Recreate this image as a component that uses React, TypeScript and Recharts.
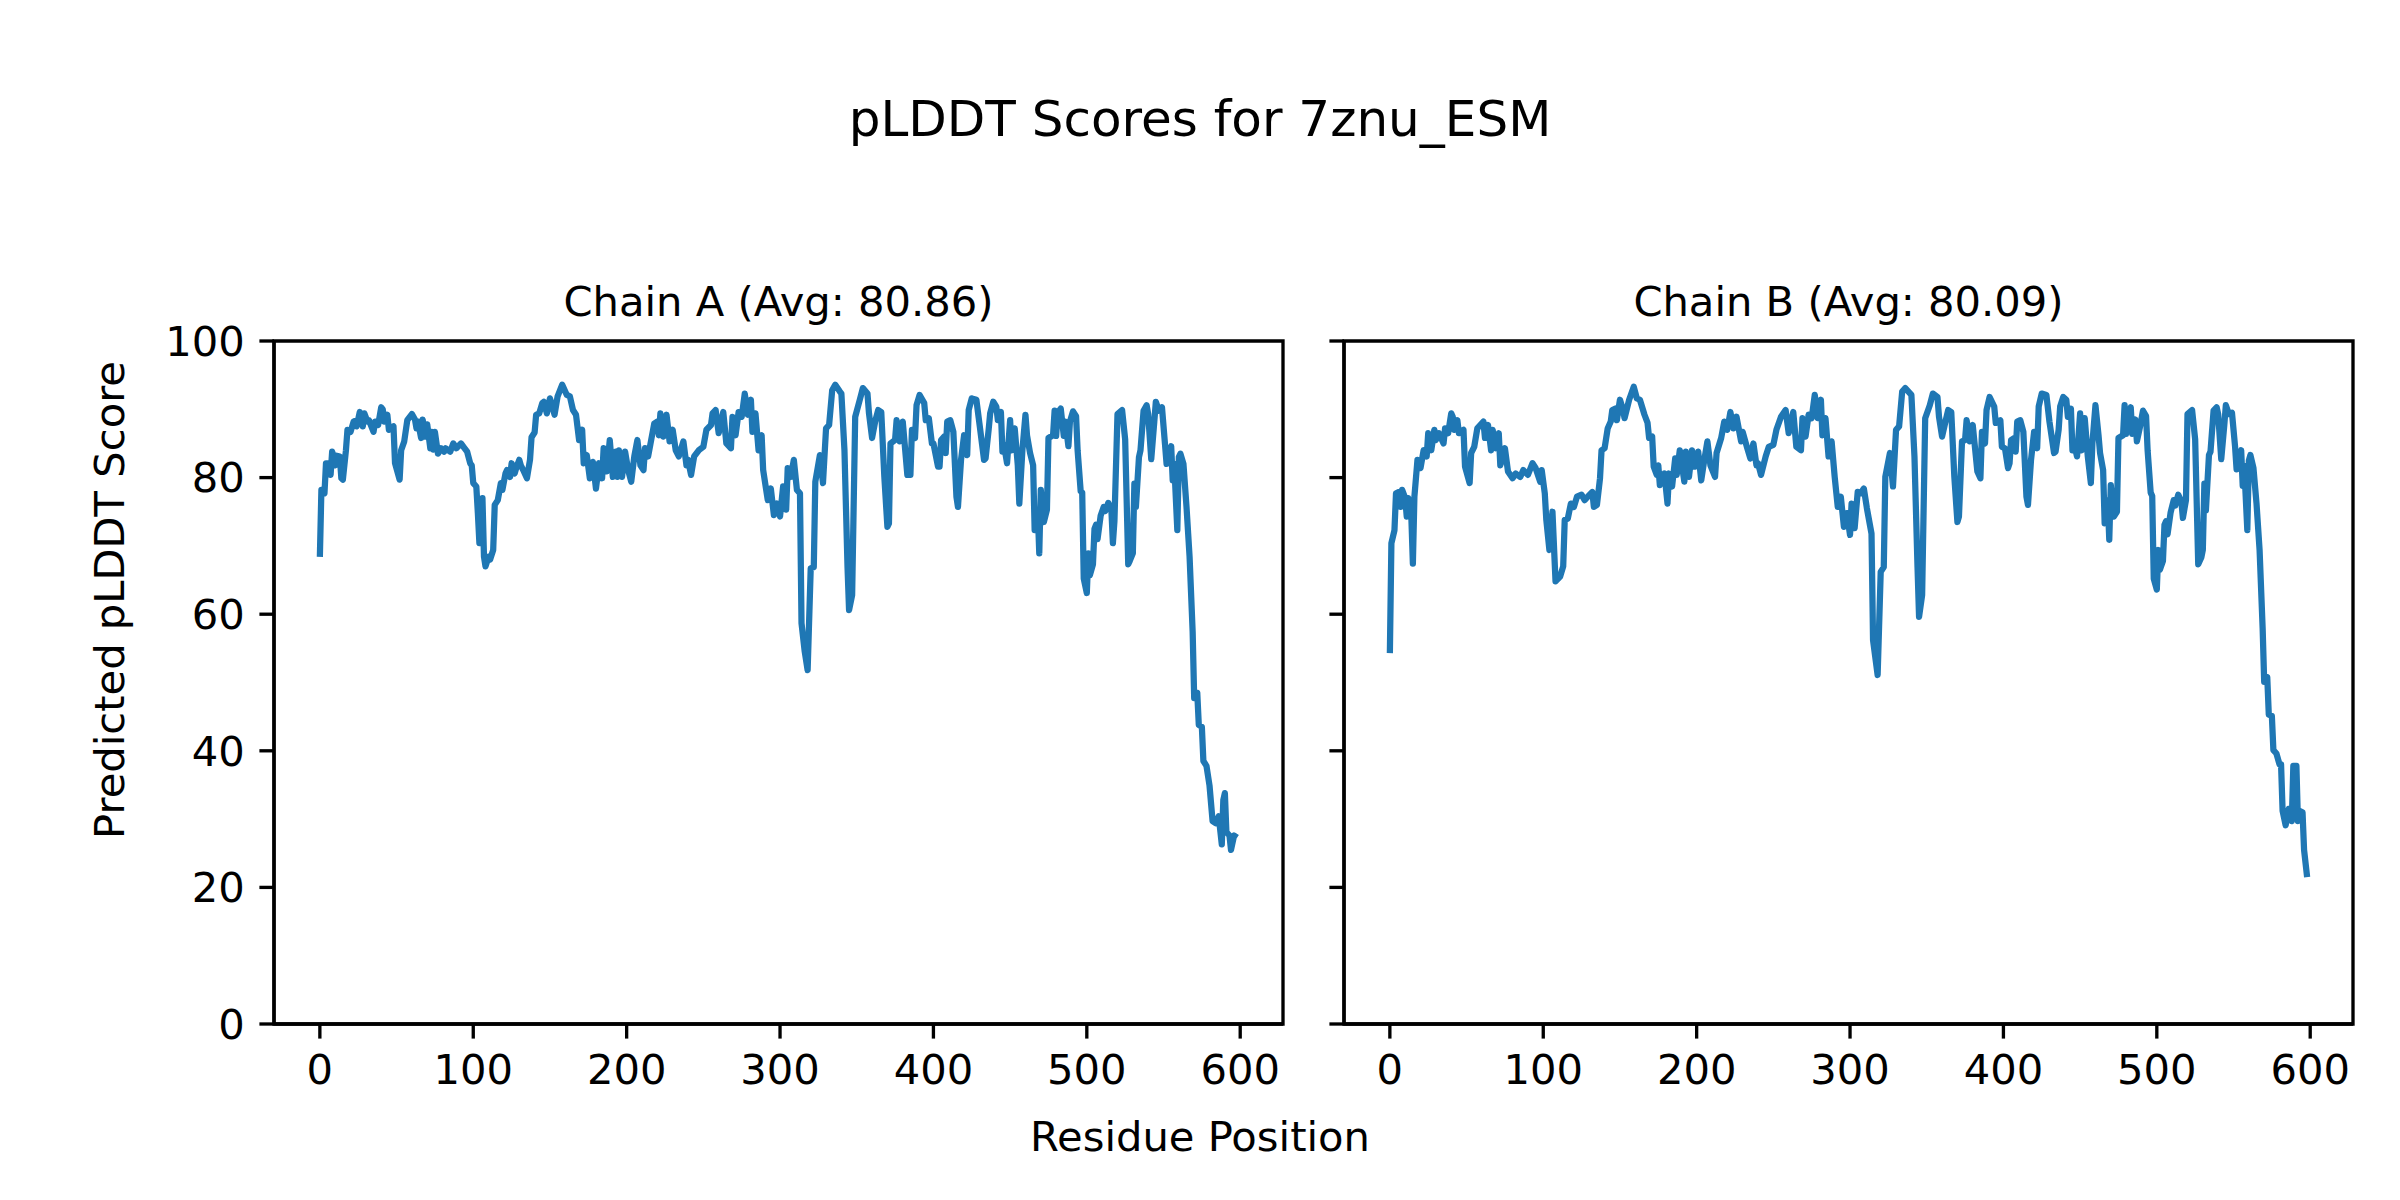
import { LineChart, Line, XAxis, YAxis, ReferenceArea } from "recharts";

// residue position, predicted pLDDT score
const chainA: [number, number][] = [
  [0, 68.4], [1, 78.2], [3, 77.7], [4, 82.1], [6, 82.1], [7, 80.4], [8, 83.8], [9, 83.1], [10, 81.8], [11, 83.2],
  [13, 83.1], [14, 79.9], [15, 79.7], [17, 84], [18, 87], [20, 86.7], [22, 88.2], [23, 88.3], [24, 87.5], [26, 89.6],
  [27, 89.2], [28, 87.5], [29, 89.4], [31, 88.2], [32, 88.4], [35, 86.7], [36, 88.2], [38, 87.7], [40, 90.3], [41, 90],
  [42, 88.2], [44, 89.2], [45, 87], [48, 87.5], [49, 82.1], [52, 79.7], [53, 84], [55, 85.3], [57, 88.4], [60, 89.3],
  [62, 88.5], [63, 87.2], [64, 88.2], [66, 85.8], [67, 88.5], [69, 86], [70, 87.8], [72, 84.3], [73, 86.7], [74, 84.1],
  [75, 86.7], [77, 83.5], [79, 84.3], [81, 83.8], [82, 84.3], [85, 83.8], [87, 85], [89, 84.3], [92, 85], [94, 84.4],
  [96, 83.8], [98, 82.1], [99, 81.8], [100, 79.2], [102, 78.7], [103, 74.8], [104, 70.4], [106, 77], [107, 68.4], [108, 67],
  [110, 68.4], [111, 68], [113, 69.4], [114, 76], [116, 76.7], [118, 79.2], [119, 78.2], [121, 80.6], [122, 81.1], [124, 80.1],
  [125, 82.1], [127, 80.6], [128, 81.4], [130, 82.6], [131, 81.8], [133, 80.9], [135, 79.9], [137, 82.6], [138, 85.9], [140, 86.6],
  [141, 89.2], [143, 89.4], [145, 90.9], [146, 91.1], [148, 89.4], [150, 91.6], [151, 90.9], [153, 89.2], [155, 91.9], [158, 93.6],
  [161, 92.1], [163, 91.9], [165, 89.9], [167, 89.2], [169, 85.5], [171, 87], [172, 82.1], [174, 83.3], [176, 79.9], [178, 82.3],
  [180, 78.4], [182, 82.1], [184, 79.9], [185, 84.3], [187, 80.9], [189, 85.5], [191, 80.1], [193, 83.8], [194, 80.1], [195, 84],
  [197, 80.1], [199, 83.8], [201, 81.1], [203, 79.4], [205, 83.1], [207, 85.5], [209, 81.8], [211, 81.1], [212, 84.3], [214, 83.1],
  [216, 85.5], [218, 87.9], [220, 88.2], [221, 86.2], [222, 89.4], [224, 86], [226, 89.2], [228, 85.3], [230, 87], [232, 84],
  [234, 83.1], [237, 85.3], [239, 81.8], [240, 82.6], [242, 80.4], [244, 83.1], [247, 84], [250, 84.5], [252, 87], [255, 87.7],
  [256, 89.4], [258, 89.9], [260, 86.5], [263, 89.6], [265, 85], [268, 84.3], [269, 88.9], [271, 86.2], [273, 89.6], [275, 88.9],
  [277, 92.3], [279, 89.2], [281, 91.4], [282, 86.7], [284, 89.4], [286, 84], [288, 86.2], [289, 81.1], [292, 76.7], [294, 78.4],
  [296, 74.5], [298, 76.2], [300, 74.3], [302, 78.7], [304, 75.3], [305, 81.4], [307, 80.1], [309, 82.6], [311, 78.2], [313, 77.7],
  [314, 58.7], [316, 54.7], [318, 51.8], [320, 66.7], [322, 66.9], [323, 79.4], [326, 83.3], [328, 79.2], [330, 87.2], [332, 87.7],
  [334, 92.8], [336, 93.6], [339, 92.6], [340, 92.3], [342, 84], [344, 66.9], [345, 60.6], [347, 62.8], [349, 88.9], [352, 91.4],
  [354, 93.1], [357, 92.3], [358, 89.4], [360, 85.8], [362, 88.2], [364, 89.9], [366, 89.6], [368, 80.1], [370, 72.8], [371, 73.3],
  [372, 85], [375, 85.5], [376, 88.4], [378, 85.3], [380, 88.2], [383, 80.4], [385, 80.4], [386, 87], [388, 85.8], [389, 90.6],
  [391, 92.1], [394, 90.9], [395, 88.4], [397, 88.7], [399, 85], [400, 85], [403, 81.6], [404, 81.6], [405, 85.5], [407, 86],
  [408, 83.6], [409, 88.2], [411, 88.4], [413, 86.7], [415, 77.2], [416, 75.7], [418, 82.6], [420, 86.2], [422, 83.3], [423, 89.9],
  [425, 91.6], [428, 91.4], [430, 87.9], [433, 82.6], [434, 82.8], [436, 87], [437, 89.4], [439, 91.1], [441, 90.4], [442, 88.4],
  [444, 89.6], [445, 83.8], [446, 84.8], [448, 82.1], [450, 88.4], [451, 84], [453, 87.2], [455, 81.8], [456, 76.2], [458, 84],
  [460, 89.2], [461, 86.2], [463, 83.6], [465, 81.8], [466, 72.3], [468, 75.3], [469, 68.9], [470, 78.2], [472, 73.5], [474, 75.3],
  [475, 85.8], [478, 86.2], [479, 89.8], [480, 86.1], [481, 89.5], [483, 90.1], [485, 86.1], [486, 88.2], [488, 84.6], [489, 88.2],
  [491, 89.7], [493, 89], [494, 84], [496, 78], [497, 77.8], [498, 65.2], [500, 63.1], [501, 68.9], [502, 65.7], [504, 67.3],
  [505, 72.5], [506, 73.1], [507, 71], [509, 74.4], [511, 75.7], [512, 75.1], [514, 76.3], [516, 75.4], [517, 70.4], [518, 73.6],
  [520, 89.3], [523, 89.9], [525, 85.6], [527, 67.3], [528, 67.8], [530, 68.9], [531, 79.1], [532, 75.7], [534, 83], [535, 84],
  [537, 89.8], [539, 90.6], [540, 89.3], [542, 82.7], [544, 88.2], [545, 91.1], [547, 89.8], [549, 90.3], [551, 84.8], [552, 82],
  [555, 84.6], [556, 79.6], [557, 82], [559, 72.3], [560, 83], [561, 83.5], [563, 82], [565, 75.7], [567, 68.4], [569, 57.4],
  [570, 47.7], [572, 48.5], [573, 43.8], [575, 43.5], [576, 38.5], [578, 37.8], [580, 34.9], [582, 29.7], [584, 29.4], [586, 30.4],
  [588, 26.3], [589, 32.8], [590, 33.8], [591, 28.1], [593, 27.6], [594, 25.5], [596, 27.6], [598, 27.3],
];

const chainB: [number, number][] = [
  [0, 54.3], [1, 70.4], [3, 72.3], [4, 77.7], [6, 77.9], [7, 75.7], [8, 78.2], [10, 77], [11, 74.3], [12, 77],
  [14, 74.3], [15, 67.4], [16, 77.2], [18, 82.6], [20, 81.4], [22, 84], [24, 83.1], [25, 86.5], [27, 84], [29, 87],
  [30, 85.5], [32, 86.5], [35, 85], [36, 87.2], [38, 86.5], [40, 89.4], [41, 88.9], [42, 87], [44, 88.4], [45, 86.5],
  [48, 87], [49, 81.6], [52, 79.2], [53, 83.6], [55, 84.5], [57, 87.2], [61, 88.2], [62, 85.8], [64, 87.7], [66, 84],
  [67, 87], [69, 84.3], [71, 86.5], [72, 81.8], [75, 84.3], [77, 80.9], [80, 79.9], [82, 80.6], [85, 80.1], [87, 81.1],
  [90, 80.4], [93, 82.1], [95, 81.4], [98, 79.4], [99, 81.1], [101, 77.7], [102, 73.8], [104, 69.4], [106, 75], [108, 64.8],
  [111, 65.5], [113, 67], [114, 73.8], [116, 74], [118, 76.2], [120, 75.7], [122, 77.2], [125, 77.5], [127, 76.7], [129, 77.2],
  [132, 77.9], [133, 75.7], [135, 76], [137, 79.9], [138, 84], [140, 84.3], [142, 87.2], [144, 88.2], [145, 89.9], [147, 90.1],
  [148, 88.4], [150, 91.4], [152, 89.9], [153, 88.7], [156, 91.4], [159, 93.3], [161, 91.6], [163, 91.4], [166, 89.2], [168, 88],
  [169, 85.8], [171, 86], [172, 81.6], [174, 80.4], [175, 81.8], [176, 78.9], [179, 80.6], [181, 76.2], [182, 80.6], [184, 78.7],
  [186, 82.8], [187, 80.4], [189, 84], [192, 79.4], [193, 83.8], [195, 80.1], [197, 84], [199, 81.6], [201, 83.8], [203, 79.6],
  [205, 82.6], [207, 85.3], [209, 81.8], [212, 80.1], [213, 83.6], [216, 85.8], [218, 88.2], [220, 87], [222, 89.6], [224, 87.2],
  [226, 88.9], [229, 85.3], [230, 86.7], [233, 84.3], [235, 82.8], [237, 85], [239, 81.8], [240, 82.1], [242, 80.4], [245, 83.1],
  [247, 84.5], [250, 84.8], [252, 87], [255, 88.9], [258, 89.9], [260, 86.5], [263, 89.6], [265, 84.5], [268, 84], [269, 88.7],
  [271, 86], [273, 89.2], [275, 88.7], [277, 92.1], [279, 88.7], [281, 91.4], [282, 86.2], [284, 88.7], [286, 83.1], [288, 85.3],
  [290, 80.1], [292, 75.7], [294, 77.2], [296, 72.8], [298, 74.8], [300, 71.6], [301, 76.2], [303, 72.6], [305, 77.9], [307, 77.7],
  [309, 78.4], [311, 75.5], [314, 71.8], [315, 56.2], [318, 51.1], [320, 66.2], [322, 66.9], [323, 80.1], [326, 83.6], [328, 78.7],
  [330, 87], [332, 87.5], [334, 92.6], [336, 93.1], [340, 92.1], [342, 83.1], [344, 66.9], [345, 59.6], [347, 62.8], [349, 88.7],
  [352, 90.6], [354, 92.3], [357, 91.8], [358, 88.9], [360, 86], [362, 88], [364, 89.9], [366, 89.6], [368, 80.1], [370, 73.5],
  [371, 74.3], [373, 85.3], [375, 85.5], [376, 88.4], [378, 85.3], [380, 87.7], [383, 80.9], [385, 79.9], [386, 86.7], [388, 85],
  [389, 89.9], [391, 91.8], [394, 90.4], [395, 88], [398, 88.4], [399, 84.5], [401, 84.3], [403, 81.4], [404, 82.1], [405, 85.5],
  [407, 85.8], [408, 83.8], [409, 88.2], [411, 88.4], [413, 86.7], [415, 77.2], [416, 76], [418, 82.6], [420, 86.7], [422, 84.3],
  [423, 90.4], [425, 92.3], [428, 92.1], [430, 88.2], [433, 83.6], [434, 83.8], [436, 87], [437, 90.4], [439, 91.8], [441, 91.4],
  [442, 88.9], [444, 90.1], [445, 84], [446, 85], [448, 83.1], [450, 89.4], [451, 84], [453, 88.7], [455, 83.1], [457, 79.2],
  [458, 85], [460, 90.6], [462, 86.2], [463, 83.6], [465, 81.1], [466, 73.3], [468, 76.7], [469, 70.9], [470, 78.9], [472, 74.3],
  [474, 75], [475, 85.8], [478, 86.2], [479, 90.6], [480, 86.4], [483, 90.3], [484, 86.4], [486, 88.5], [487, 85.3], [489, 87.4],
  [491, 89.8], [493, 89], [494, 84], [496, 77.8], [497, 77.3], [498, 65.2], [500, 63.6], [501, 69.4], [502, 66.5], [504, 67.8],
  [505, 73.1], [506, 73.6], [507, 71.7], [509, 74.9], [511, 76.7], [512, 75.9], [514, 77.5], [516, 76.5], [517, 74.1], [519, 76.7],
  [520, 89.3], [523, 89.9], [525, 85.6], [527, 67.3], [529, 68.3], [530, 69.4], [531, 79.1], [532, 75.2], [534, 83.3], [535, 83.8],
  [537, 89.8], [539, 90.3], [540, 89.3], [542, 82.7], [544, 87.7], [545, 90.6], [547, 89.3], [549, 89.5], [551, 84.6], [552, 81.2],
  [555, 84], [556, 78.8], [557, 81.7], [559, 72.3], [560, 82.5], [561, 83.3], [563, 81.4], [565, 76.2], [567, 69.4], [569, 57.9],
  [570, 50.1], [572, 50.8], [573, 45.3], [575, 45.1], [576, 40.1], [578, 39.6], [580, 38], [581, 38], [582, 31.2], [584, 29.1],
  [586, 31.5], [588, 29.7], [589, 37.8], [591, 37.8], [592, 29.7], [593, 31.2], [595, 31], [596, 25.5], [598, 21.5],
];

const xTicks = [0, 100, 200, 300, 400, 500, 600];
const yTicks = [0, 20, 40, 60, 80, 100];
const panelTitles = ["Chain A (Avg: 80.86)", "Chain B (Avg: 80.09)"];
const figTitle = "pLDDT Scores for 7znu_ESM";
const xLabel = "Residue Position";
const yLabel = "Predicted pLDDT Score";

const FONT = "'DejaVu Sans', sans-serif";
const BLUE = "#1f77b4";
const LW = 3.33; // 0.8pt at 300 dpi
const TICK_FS = 41.67; // 10pt
const X_DOMAIN: [number, number] = [-29.9, 627.9];

function Panel({
  points,
  left,
  width,
  yAxisWidth,
  marginLeft,
  showYLabels,
}: {
  points: [number, number][];
  left: number;
  width: number;
  yAxisWidth: number;
  marginLeft: number;
  showYLabels: boolean;
}) {
  const data = points.map(([pos, score]) => ({ pos, score }));
  const plotRight = marginLeft + yAxisWidth + 1009;
  return (
    <div style={{ position: "absolute", left, top: 0 }}>
      <LineChart
        width={width}
        height={1200}
        data={data}
        margin={{ top: 341, right: width - plotRight, bottom: 76, left: marginLeft }}
      >
        <XAxis
          dataKey="pos"
          type="number"
          domain={X_DOMAIN}
          allowDataOverflow
          ticks={xTicks}
          height={100}
          tickSize={14.6}
          tickMargin={16}
          axisLine={{ stroke: "#000", strokeWidth: LW }}
          tickLine={{ stroke: "#000", strokeWidth: LW }}
          tick={{ fontSize: TICK_FS, fill: "#000", fontFamily: FONT }}
        />
        <YAxis
          type="number"
          domain={[0, 100]}
          allowDataOverflow
          ticks={yTicks}
          width={yAxisWidth}
          tickSize={14.6}
          tickMargin={14.6}
          axisLine={{ stroke: "#000", strokeWidth: LW }}
          tickLine={{ stroke: "#000", strokeWidth: LW }}
          tick={{ fontSize: TICK_FS, fill: "#000", fontFamily: FONT }}
          tickFormatter={(v: number) => (showYLabels ? String(v) : "")}
        />
        <ReferenceArea
          x1={X_DOMAIN[0]}
          x2={X_DOMAIN[1]}
          y1={0}
          y2={100}
          fill="none"
          fillOpacity={0}
          stroke="#000"
          strokeWidth={LW}
          ifOverflow="visible"
        />
        <Line
          dataKey="score"
          type="linear"
          stroke={BLUE}
          strokeWidth={6.25}
          strokeLinejoin="round"
          dot={false}
          activeDot={false}
          isAnimationActive={false}
        />
      </LineChart>
    </div>
  );
}

export default function App() {
  return (
    <div
      style={{
        position: "absolute",
        left: 0,
        top: 0,
        width: 2400,
        height: 1200,
        background: "#fff",
        fontFamily: FONT,
      }}
    >
      <Panel points={chainA} left={0} width={1310} yAxisWidth={120} marginLeft={154} showYLabels />
      <Panel points={chainB} left={1310} width={1090} yAxisWidth={34} marginLeft={0} showYLabels={false} />
      <svg
        width={2400}
        height={1200}
        style={{ position: "absolute", left: 0, top: 0, pointerEvents: "none" }}
        fontFamily={FONT}
      >
        <text x={1200} y={136} textAnchor="middle" fontSize={50} fill="#000">
          {figTitle}
        </text>
        <text x={778.5} y={316} textAnchor="middle" fontSize={TICK_FS} fill="#000">
          {panelTitles[0]}
        </text>
        <text x={1848.5} y={316} textAnchor="middle" fontSize={TICK_FS} fill="#000">
          {panelTitles[1]}
        </text>
        <text x={1200} y={1151} textAnchor="middle" fontSize={TICK_FS} fill="#000">
          {xLabel}
        </text>
        <text
          transform="translate(124,600) rotate(-90)"
          textAnchor="middle"
          fontSize={TICK_FS}
          fill="#000"
        >
          {yLabel}
        </text>
      </svg>
    </div>
  );
}
